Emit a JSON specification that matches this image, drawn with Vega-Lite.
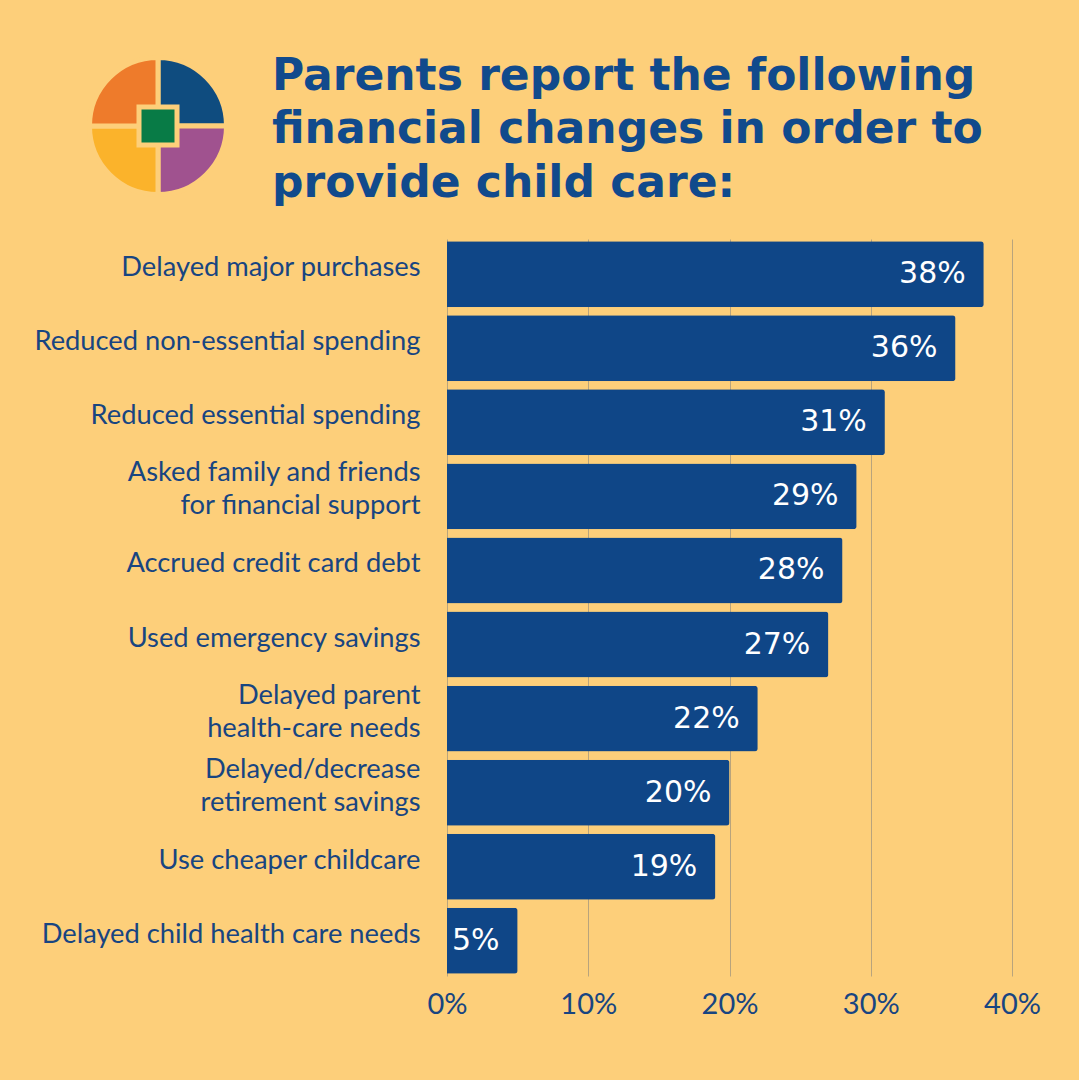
{
  "$schema": "https://vega.github.io/schema/vega-lite/v6.json",
  "background": "#FDCF7A",
  "padding": {"left": 33, "top": 47, "right": 38, "bottom": 63},
  "spacing": 33,
  "config": {
    "view": {"stroke": null},
    "font": "Lato"
  },
  "vconcat": [
    {
      "width": 240,
      "height": 154,
      "title": {
        "text": ["Parents report the following", "financial changes in order to", "provide child care:"],
        "orient": "top",
        "frame": "group",
        "anchor": "start",
        "align": "left",
        "baseline": "top",
        "offset": -158,
        "dx": 234,
        "font": "DejaVu Sans",
        "fontWeight": "bold",
        "fontSize": 44,
        "lineHeight": 53.5,
        "color": "#114A8C"
      },
      "layer": [
        {
          "data": {
            "values": [
              {"piece": "blue", "k": 1, "share": 1},
              {"piece": "purple", "k": 2, "share": 1},
              {"piece": "yellow", "k": 3, "share": 1},
              {"piece": "orange", "k": 4, "share": 1}
            ]
          },
          "mark": {"type": "arc", "outerRadius": 68.5, "stroke": "#FDCF7A", "strokeWidth": 5},
          "encoding": {
            "theta": {"field": "share", "type": "quantitative", "stack": true},
            "order": {"field": "k", "type": "quantitative"},
            "color": {
              "field": "piece",
              "type": "nominal",
              "scale": {
                "domain": ["blue", "purple", "yellow", "orange"],
                "range": ["#0F4C7F", "#A0528F", "#FBB32B", "#EE7B2B"]
              },
              "legend": null
            }
          }
        },
        {
          "data": {"values": [{"piece": "green"}]},
          "mark": {"type": "point", "shape": "square", "size": 1444, "filled": true, "fill": "#087B46", "stroke": "#FDCF7A", "strokeWidth": 5, "opacity": 1},
          "encoding": {}
        }
      ]
    },
    {
      "width": 974,
      "height": 737,
      "data": {
        "values": [
          {"item": "Delayed major purchases", "share": 0.38},
          {"item": "Reduced non-essential spending", "share": 0.36},
          {"item": "Reduced essential spending", "share": 0.31},
          {"item": "Asked family and friends\nfor financial support", "share": 0.29},
          {"item": "Accrued credit card debt", "share": 0.28},
          {"item": "Used emergency savings", "share": 0.27},
          {"item": "Delayed parent\nhealth-care needs", "share": 0.22},
          {"item": "Delayed/decrease\nretirement savings", "share": 0.20},
          {"item": "Use cheaper childcare", "share": 0.19},
          {"item": "Delayed child health care needs", "share": 0.05}
        ]
      },
      "encoding": {
        "y": {
          "field": "item",
          "type": "nominal",
          "sort": null,
          "scale": {"paddingInner": 0.11, "paddingOuter": 0.03},
          "axis": {
            "title": null,
            "orient": "left",
            "offset": -409,
            "domain": false,
            "ticks": false,
            "grid": false,
            "labelPadding": 27,
            "labelLimit": 600,
            "labelFont": "Lato",
            "labelFontSize": 27.3,
            "labelColor": "#184581",
            "labelLineHeight": 33,
            "labelExpr": "split(datum.label, '\\n')",
            "labelOffset": {
              "condition": {"test": "indexof(datum.value, '\\n') >= 0", "value": -23},
              "value": -6
            }
          }
        },
        "x": {
          "field": "share",
          "type": "quantitative",
          "scale": {"domain": [0, 0.4], "range": [409, 974], "nice": false},
          "axis": {
            "title": null,
            "values": [0, 0.1, 0.2, 0.3, 0.4],
            "format": ".0%",
            "domain": false,
            "ticks": false,
            "grid": true,
            "gridColor": "#B9A47C",
            "gridWidth": 1,
            "labelFlush": false,
            "labelPadding": 14,
            "labelFont": "Lato",
            "labelFontSize": 29,
            "labelColor": "#184581"
          }
        }
      },
      "layer": [
        {
          "mark": {"type": "bar", "color": "#0F4687", "cornerRadiusEnd": 3}
        },
        {
          "mark": {"type": "text", "align": "right", "baseline": "middle", "dx": -18, "dy": 0, "color": "#FFFFFF", "font": "DejaVu Sans", "fontSize": 30},
          "encoding": {
            "text": {"field": "share", "type": "quantitative", "format": ".0%"}
          }
        }
      ]
    }
  ]
}
